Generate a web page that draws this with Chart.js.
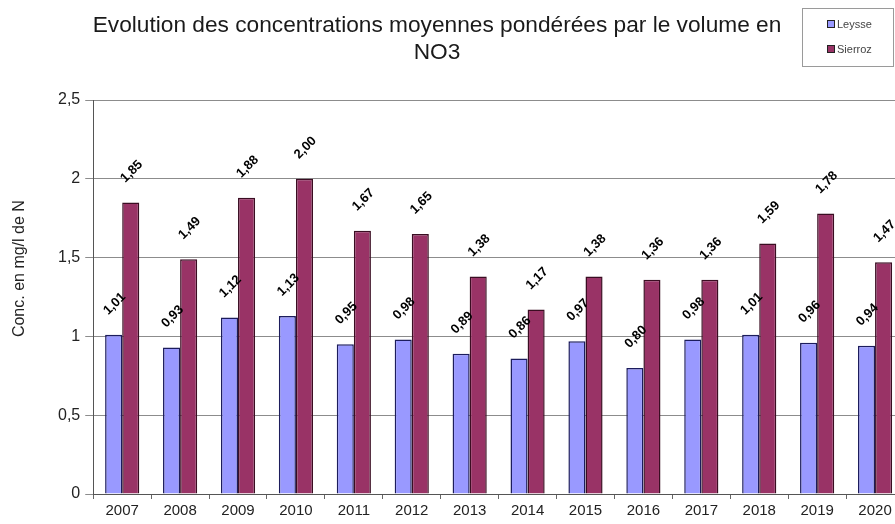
<!DOCTYPE html>
<html>
<head>
<meta charset="utf-8">
<script src="https://cdn.jsdelivr.net/npm/chart.js@4"></script>
<style>
  html, body { margin: 0; padding: 0; background: #fff; overflow: hidden; }
  #wrap { position: relative; width: 904px; height: 524px; }
  #title {
    position: absolute; left: 0; width: 874px; top: 11px;
    text-align: center; font: 22.7px "Liberation Sans", Arial, sans-serif;
    color: #1a1a1a; line-height: 27px;
  }
  #legend {
    position: absolute; left: 802px; top: 8px; width: 92px; height: 59px;
    border: 1px solid #9a9a9a; box-sizing: border-box;
    font: 11px "Liberation Sans", Arial, sans-serif; color: #444;
  }
  #legend div { position: absolute; left: 24px; }
  #legend span {
    display: inline-block; width: 6px; height: 6px; margin-right: 2px;
    vertical-align: 0px; border: 1px solid #222;
  }
</style>
</head>
<body>
<div id="wrap">
  <canvas id="nitrateChart"></canvas>
  <div id="title">Evolution des concentrations moyennes pondérées par le volume en<br>NO3</div>
  <div id="legend"></div>
</div>
<script>
    var years = ['2007', '2008', '2009', '2010', '2011', '2012', '2013', '2014', '2015', '2016', '2017', '2018', '2019', '2020'];
    var leysse = [1.01, 0.93, 1.12, 1.13, 0.95, 0.98, 0.89, 0.86, 0.97, 0.80, 0.98, 1.01, 0.96, 0.94];
    var sierroz = [1.85, 1.49, 1.88, 2.00, 1.67, 1.65, 1.38, 1.17, 1.38, 1.36, 1.36, 1.59, 1.78, 1.47];
    var yTicks = [0, 0.5, 1, 1.5, 2, 2.5];
    var yTitle = 'Conc. en mg/l de N';

    var leysseColor = '#9999ff', sierrozColor = '#993366';

    // legend box (top right), built from the dataset names/colours
    var legendItems = [['Leysse', leysseColor, 9], ['Sierroz', sierrozColor, 34]];
    var legend = document.getElementById('legend');
    legendItems.forEach(function (it) {
        var d = document.createElement('div');
        d.style.top = it[2] + 'px';
        d.innerHTML = '<span style="background:' + it[1] + '"></span>' + it[0];
        legend.appendChild(d);
    });

    function comma(v) { return String(v).replace('.', ','); }

    // rotated value labels above every bar
    var valueLabels = {
        id: 'valueLabels',
        afterDatasetsDraw: function (chart) {
            var c = chart.ctx;
            c.save();
            c.font = 'bold 13px "Liberation Sans", Arial, sans-serif';
            c.fillStyle = '#000';
            c.textAlign = 'center';
            c.textBaseline = 'middle';
            chart.data.datasets.forEach(function (ds, i) {
                chart.getDatasetMeta(i).data.forEach(function (bar, j) {
                    c.save();
                    c.translate(bar.x + 1, bar.y - 31);
                    c.rotate(-Math.PI / 4);
                    c.fillText(ds.data[j].toFixed(2).replace('.', ','), 0, 0);
                    c.restore();
                });
            });
            c.restore();
        }
    };

    // y axis title, sitting a bit above the middle of the axis as in the original
    var axisTitle = {
        id: 'axisTitle',
        afterDraw: function (chart) {
            var c = chart.ctx;
            c.save();
            c.font = '16px "Liberation Sans", Arial, sans-serif';
            c.fillStyle = '#222';
            c.textAlign = 'center';
            c.textBaseline = 'middle';
            c.translate(20, chart.scales.y.getPixelForValue(1.43));
            c.rotate(-Math.PI / 2);
            c.fillText(yTitle, 0, 0);
            c.restore();
        }
    };

    Chart.defaults.font.family = '"Liberation Sans", Arial, sans-serif';
    Chart.defaults.font.size = 15;
    Chart.defaults.color = '#222';

    var ctx = document.getElementById('nitrateChart').getContext('2d');
    var nitrateChart = new Chart(ctx, {
        type: 'bar',
        data: {
            labels: years,
            datasets: [{
                label: 'Leysse',
                data: leysse,
                backgroundColor: leysseColor,
                borderColor: '#1c1c5c',
                borderWidth: 1.5,
                borderSkipped: 'bottom'
            }, {
                label: 'Sierroz',
                data: sierroz,
                backgroundColor: sierrozColor,
                borderColor: '#3a0d22',
                borderWidth: 1.5,
                borderSkipped: 'bottom'
            }]
        },
        options: {
            responsive: true,
            maintainAspectRatio: false,
            animation: false,
            layout: { padding: { top: 100, left: 53, right: 0, bottom: 1 } },
            datasets: { bar: { categoryPercentage: 0.59, barPercentage: 1.0 } },
            plugins: {
                legend: { display: false },
                title: { display: false },
                tooltip: { enabled: false }
            },
            scales: {
                x: {
                    grid: { drawOnChartArea: false, tickLength: 5, color: '#666' },
                    border: { color: '#555' },
                    ticks: { padding: 3, maxRotation: 0 }
                },
                y: {
                    min: 0,
                    max: 2.5,
                    afterBuildTicks: function (axis) {
                        axis.ticks = yTicks.map(function (v) { return { value: v }; });
                    },
                    grid: { color: '#8c8c8c', tickLength: 8 },
                    border: { color: '#555' },
                    ticks: { padding: 5, font: { size: 16 }, callback: function (v) { return comma(v); } }
                }
            }
        },
        plugins: [valueLabels, axisTitle]
    });
</script>
</body>
</html>
